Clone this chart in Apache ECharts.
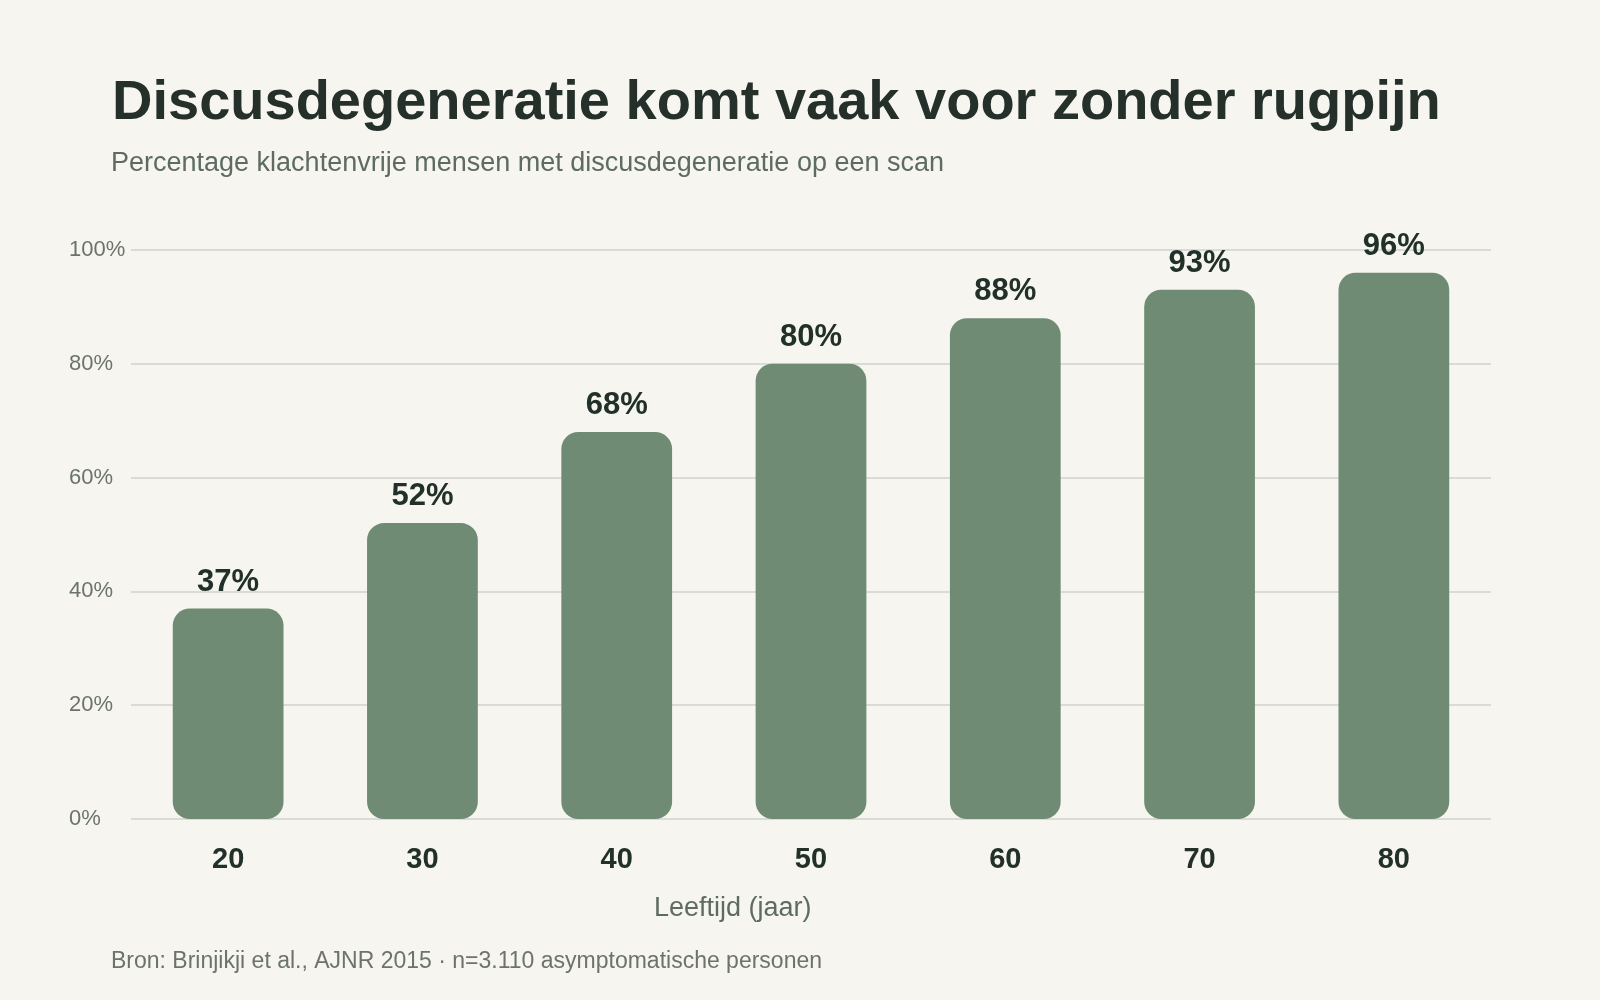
<!DOCTYPE html>
<html>
<head>
    <meta charset="utf-8">
    <title>Discusdegeneratie</title>
    <script src="https://cdn.jsdelivr.net/npm/echarts@6/dist/echarts.min.js"></script>
    <style>
        html, body { margin: 0; padding: 0; background: #f6f5ef; }
        #main { width: 1600px; height: 1000px; }
    </style>
</head>
<body>
    <div id="main"></div>
    <script type="text/javascript">
        // data
        var leeftijden = ['20', '30', '40', '50', '60', '70', '80'];
        var percentages = [37, 52, 68, 80, 88, 93, 96];
        var yTicks = [0, 20, 40, 60, 80, 100];

        var font = 'Liberation Sans, Arial, sans-serif';
        var myChart = echarts.init(document.getElementById('main'));

        var option = {
            backgroundColor: '#f6f5ef',
            animation: false,
            title: [{
                text: 'Discusdegeneratie komt vaak voor zonder rugpijn',
                left: 107,
                top: 71,
                textStyle: { fontFamily: font, fontSize: 56, fontWeight: 'bold', color: '#25302b' }
            }, {
                text: 'Percentage klachtenvrije mensen met discusdegeneratie op een scan',
                left: 106,
                top: 145,
                textStyle: { fontFamily: font, fontSize: 27, fontWeight: 'normal', color: '#5d6b62' }
            }, {
                // as de naam van de x-as staat niet midden onder het plot
                text: 'Leeftijd (jaar)',
                left: 649,
                top: 890,
                textStyle: { fontFamily: font, fontSize: 27, fontWeight: 'normal', color: '#5d6b62' }
            }, {
                text: 'Bron: Brinjikji et al., AJNR 2015 · n=3.110 asymptomatische personen',
                left: 106,
                top: 945,
                textStyle: { fontFamily: font, fontSize: 23, fontWeight: 'normal', color: '#6c736d' }
            }],
            grid: {
                left: 131,
                right: 109,
                top: 250,
                bottom: 181
            },
            xAxis: {
                type: 'category',
                data: leeftijden,
                axisLine: { show: false },
                axisTick: { show: false },
                axisLabel: {
                    margin: 26,
                    fontFamily: font,
                    fontSize: 29,
                    fontWeight: 'bold',
                    color: '#22302a'
                }
            },
            yAxis: {
                type: 'value',
                min: 0,
                max: 100,
                interval: 20,
                axisLine: { show: false },
                axisTick: { show: false },
                axisLabel: {
                    align: 'left',
                    margin: 62,
                    fontFamily: font,
                    fontSize: 22,
                    color: '#6c736d',
                    formatter: function (v) {
                        return yTicks.indexOf(v) >= 0 ? v + '%' : '';
                    }
                },
                splitLine: { lineStyle: { color: '#d9dbd6', width: 2 } }
            },
            series: [{
                type: 'bar',
                data: percentages,
                barWidth: '57%',
                itemStyle: { color: '#6f8b73', borderRadius: 17 },
                label: {
                    show: true,
                    position: 'top',
                    distance: 11,
                    formatter: '{c}%',
                    fontFamily: font,
                    fontSize: 31,
                    fontWeight: 'bold',
                    color: '#22302a'
                }
            }]
        };

        myChart.setOption(option);
    </script>
</body>
</html>
